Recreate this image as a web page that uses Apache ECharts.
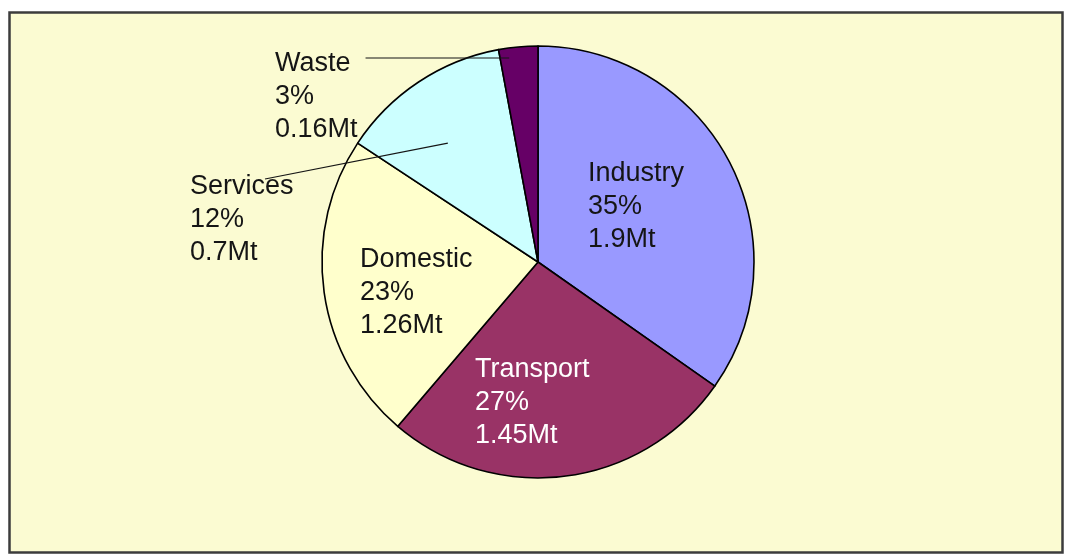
<!DOCTYPE html>
<html lang="en" style="height: 100%">
<head>
    <meta charset="UTF-8">
    <title>Emissions by sector</title>
    <script src="https://cdn.jsdelivr.net/npm/echarts@6/dist/echarts.min.js"></script>
</head>
<body style="height: 100%; margin: 0; background: #fff">
<div id="main" style="width: 1065px; height: 554px"></div>
<script>
    // data
    var sectors = ['Industry', 'Transport', 'Domestic', 'Services', 'Waste'];
    var mt = [1.9, 1.45, 1.26, 0.7, 0.16];
    var pct = [35, 27, 23, 12, 3];
    var colors = ['#9999FF', '#993366', '#FFFFCC', '#CCFFFF', '#660066'];

    // where each label's top-left sits (px), and leader line ends (fractions of slice box)
    var labelSpots = [[588, 157], [475, 353], [360, 243], [190, 170], [275, 47]];
    var leaderEnds = [null, null, null, [0.5, 0.44], [0.27, null]];

    var myChart = echarts.init(document.getElementById('main'));

    // the slices themselves
    var sliceData = [];
    // a see-through copy on top that carries the labels, so leader lines sit above the slices
    var labelData = [];
    for (var i = 0; i < sectors.length; i++) {
        var outside = leaderEnds[i] != null;
        sliceData.push({name: sectors[i], value: mt[i], itemStyle: {color: colors[i]}});
        labelData.push({
            name: sectors[i],
            value: mt[i],
            label: {
                position: outside ? 'outside' : 'inside',
                color: i === 1 ? '#ffffff' : '#151515'
            },
            labelLine: {show: outside}
        });
    }

    var pieBase = {
        type: 'pie',
        center: [538, 262],
        radius: 216,
        startAngle: 90,
        clockwise: true,
        avoidLabelOverlap: false,
        emphasis: {disabled: true}
    };

    var option = {
        backgroundColor: '#ffffff',
        animation: false,
        graphic: [{
            type: 'rect',
            z: -10,
            shape: {x: 9.5, y: 12.5, width: 1053, height: 540},
            style: {fill: '#FBFBD2', stroke: '#3c3c3c', lineWidth: 2.5}
        }],
        series: [
            echarts.util.extend({
                z: 2,
                itemStyle: {borderColor: '#000', borderWidth: 1.6},
                label: {show: false},
                labelLine: {show: false},
                data: sliceData
            }, pieBase),
            echarts.util.extend({
                z: 3,
                silent: true,
                itemStyle: {color: 'rgba(0,0,0,0)', borderWidth: 0},
                label: {
                    fontFamily: 'Liberation Sans, Arial, sans-serif',
                    fontSize: 27,
                    lineHeight: 33,
                    align: 'left',
                    formatter: function (p) {
                        return p.name + '\n' + pct[p.dataIndex] + '%\n' + mt[p.dataIndex] + 'Mt';
                    }
                },
                labelLine: {
                    smooth: false,
                    lineStyle: {color: '#151515', width: 1.2}
                },
                labelLayout: function (params) {
                    var k = params.dataIndex;
                    var pos = labelSpots[k];
                    var out = {x: pos[0], y: pos[1], align: 'left', verticalAlign: 'top'};
                    var end = leaderEnds[k];
                    if (end) {
                        var r = params.rect;
                        var lr = params.labelRect;
                        var ex, ey, sx, sy;
                        if (k === 4) {
                            sx = pos[0] + lr.width + 8;
                            sy = pos[1] + 11;
                            ex = r.x + r.width * end[0];
                            ey = sy;
                        } else {
                            sx = pos[0] + 75;
                            sy = pos[1] + 9;
                            ex = r.x + r.width * end[0];
                            ey = r.y + r.height * end[1];
                        }
                        out.labelLinePoints = [[sx, sy], [ex, ey], [ex, ey]];
                    }
                    return out;
                },
                data: labelData
            }, pieBase)
        ]
    };
    myChart.setOption(option);
</script>
</body>
</html>
